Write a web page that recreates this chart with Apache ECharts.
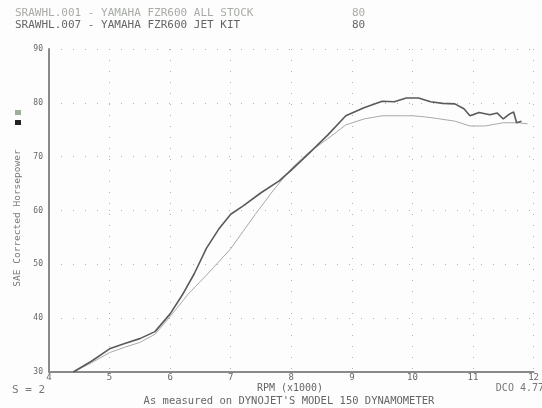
<!DOCTYPE html>
<html><head><meta charset="utf-8">
<script src="https://cdn.jsdelivr.net/npm/echarts@6/dist/echarts.min.js"></script>
<style>html,body{margin:0;padding:0;background:#fff}#c{width:542px;height:408px}</style>
</head><body><div id="c"></div>
<script>
// Data (rpm in thousands, SAE corrected horsepower)
const stockRpm = [4.4,4.7,5.0,5.25,5.5,5.75,6.0,6.3,6.6,7.0,7.4,7.7,8.0,8.3,8.6,8.9,9.2,9.5,9.8,10.0,10.2,10.4,10.7,10.95,11.2,11.5,11.75,11.9];
const stockHp  = [30,31.7,33.6,34.6,35.5,37,40.3,44.5,48,52.9,59.2,63.7,67.8,70.9,73.3,75.9,77.0,77.6,77.6,77.6,77.4,77.1,76.6,75.7,75.7,76.3,76.3,76.1];
const jetRpm = [4.4,4.7,5.0,5.25,5.5,5.75,6.0,6.2,6.4,6.6,6.8,7.0,7.2,7.5,7.8,8.0,8.3,8.6,8.9,9.2,9.5,9.7,9.9,10.1,10.3,10.5,10.7,10.85,10.95,11.1,11.28,11.4,11.5,11.6,11.67,11.72,11.8];
const jetHp  = [30,32,34.3,35.3,36.2,37.5,40.8,44.3,48.3,53,56.5,59.3,60.8,63.3,65.5,67.5,70.7,74,77.6,79.1,80.3,80.2,80.9,80.9,80.2,79.9,79.8,78.9,77.6,78.2,77.8,78.1,77.0,77.9,78.3,76.3,76.6];
const headerLines = ["SRAWHL.001 - YAMAHA FZR600 ALL STOCK", "SRAWHL.007 - YAMAHA FZR600 JET KIT"];
const headerValues = ["80", "80"];
const xTitle = "RPM (x1000)";
const yTitle = "SAE Corrected Horsepower";
const footer = "As measured on DYNOJET'S MODEL 150 DYNAMOMETER";
const leftNote = "S = 2";
const rightNote = "DCO 4.77";

const pair = (xs, ys) => xs.map((x, i) => [x, ys[i]]);
const FONT = "DejaVu Sans Mono";
const f = s => s + 'px "' + FONT + '"';
const chart = echarts.init(document.getElementById('c'), null, {renderer: 'canvas'});
chart.setOption({
  animation: false,
  backgroundColor: '#fdfdfd',
  grid: {left: 49, right: 5, top: 49, bottom: 36},
  xAxis: {
    type: 'value', min: 4, max: 12, interval: 1,
    axisLine: {lineStyle: {color: '#8a8a8a', width: 2}},
    axisTick: {show: false},
    axisLabel: {color: '#666', fontFamily: FONT, fontSize: 9, margin: 1},
    splitLine: {show: true, lineStyle: {color: '#b5b5b5', type: [1, 10], width: 1}}
  },
  yAxis: {
    type: 'value', min: 30, max: 90, interval: 10,
    axisLine: {show: true, lineStyle: {color: '#8a8a8a', width: 2}},
    axisTick: {show: false},
    axisLabel: {color: '#666', fontFamily: FONT, fontSize: 8, margin: 6},
    splitLine: {show: true, lineStyle: {color: '#b5b5b5', type: [1, 11], width: 1}}
  },
  series: [
    {type: 'line', data: pair(stockRpm, stockHp), showSymbol: false,
     lineStyle: {color: '#a9a9a9', width: 1}, z: 2},
    {type: 'line', data: pair(jetRpm, jetHp), showSymbol: false,
     lineStyle: {color: '#5a5a5a', width: 1.6}, z: 3}
  ],
  graphic: [
    {type: 'text', x: 15, y: 13, style: {text: headerLines[0], fill: '#a8aca4', font: f(11), verticalAlign: 'middle'}},
    {type: 'text', x: 15, y: 25, style: {text: headerLines[1], fill: '#666', font: f(11), verticalAlign: 'middle'}},
    {type: 'text', x: 352, y: 13, style: {text: headerValues[0], fill: '#a8aca4', font: f(11), verticalAlign: 'middle'}},
    {type: 'text', x: 352, y: 25, style: {text: headerValues[1], fill: '#666', font: f(11), verticalAlign: 'middle'}},
    {type: 'rect', shape: {x: 15, y: 110, width: 6, height: 5}, style: {fill: '#9fae98'}},
    {type: 'rect', shape: {x: 15, y: 120, width: 6, height: 5}, style: {fill: '#222'}},
    {type: 'text', x: 18, y: 218, rotation: Math.PI / 2,
     style: {text: yTitle, fill: '#777', font: f(9.5), align: 'center', verticalAlign: 'middle'}},
    {type: 'text', x: 12, y: 390, style: {text: leftNote, fill: '#777', font: f(11), verticalAlign: 'middle'}},
    {type: 'text', x: 290, y: 388, style: {text: xTitle, fill: '#666', font: f(10), align: 'center', verticalAlign: 'middle'}},
    {type: 'text', x: 544, y: 388, style: {text: rightNote, fill: '#777', font: f(10), align: 'right', verticalAlign: 'middle'}},
    {type: 'text', x: 289, y: 401, style: {text: footer, fill: '#666', font: f(10.5), align: 'center', verticalAlign: 'middle'}}
  ]
});
</script></body></html>
